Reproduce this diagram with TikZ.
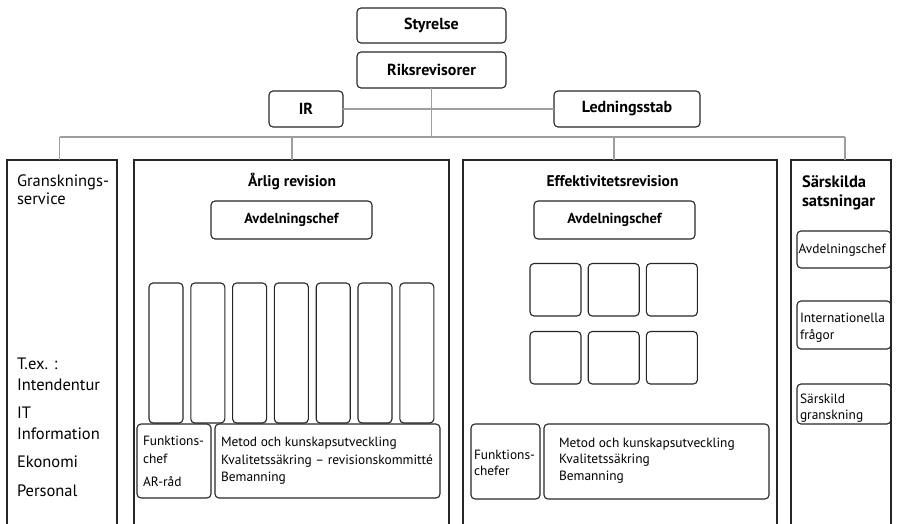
\documentclass[tikz,border=0pt]{standalone}
\usepackage{fontspec}
\setmainfont{PT Sans}
\begin{document}
\begin{tikzpicture}[x=1pt,y=-1pt,
  every node/.style={inner sep=0pt, outer sep=0pt, font=\fontsize{13.4}{16}\selectfont},
  box/.style={draw=black!85, line width=1.1pt, rounded corners=4pt},
  topbox/.style={box, font=\fontsize{16}{18}\selectfont\bfseries},
  hbox/.style={box, font=\fontsize{14.5}{17}\selectfont\bfseries},
  frame/.style={draw=black!85, line width=1.1pt, anchor=north west, minimum height=380pt},
  wire/.style={draw=black!38, line width=1.8pt},
  txt/.style={anchor=base west},
  bigtxt/.style={anchor=base west, font=\fontsize{16.5}{19}\selectfont},
  head/.style={font=\fontsize{15.5}{18}\selectfont\bfseries},
]
\useasboundingbox (0,0) rectangle (898,524);

% top management
\node[topbox, minimum width=149pt, minimum height=35pt] (styrelse) at (431.5,25.5) {Styrelse};
\node[topbox, minimum width=149pt, minimum height=36pt] (rr) at (431.5,70) {Riksrevisorer};
\node[topbox, minimum width=74pt, minimum height=36pt] (ir) at (306,109) {IR};
\node[topbox, minimum width=146pt, minimum height=36pt] (stab) at (627,109) {Ledningsstab};

% departments (open at the bottom edge)
\node[frame, minimum width=110pt] (gs) at (7,160) {};
\node[frame, minimum width=315pt] (ar) at (134,160) {};
\node[frame, minimum width=314pt] (er) at (463,160) {};
\node[frame, minimum width=100pt] (ss) at (791,160) {};

% connectors
\coordinate (busL) at (59.5,137);
\coordinate (busA) at (292,137);
\coordinate (busE) at (614,137);
\coordinate (busR) at (845,137);
\draw[wire] (ir.east) -- (stab.west);
\draw[wire] (rr.south) -- (rr.south |- busL);
\draw[wire] (busL) -- (busR);
\draw[wire] (busL) -- (busL |- gs.north);
\draw[wire] (busA) -- (busA |- ar.north);
\draw[wire] (busE) -- (busE |- er.north);
\draw[wire] (busR) -- (busR |- ss.north);

% Granskningsservice
\node[bigtxt] (gs1) at (17,187) {Gransknings-};
\node[bigtxt] (gs2) at (17,205) {service};
\node[bigtxt] (gs3) at (17,369) {T.ex. :};
\node[bigtxt] (gs4) at (17,390) {Intendentur};
\node[bigtxt] (gs5) at (17,418) {IT};
\node[bigtxt] (gs6) at (17,439) {Information};
\node[bigtxt] (gs7) at (17,467) {Ekonomi};
\node[bigtxt] (gs8) at (17,496) {Personal};

% Årlig revision
\node[head, anchor=base] (art) at (292,187) {Årlig revision};
\node[hbox, minimum width=161pt, minimum height=38pt] (arch) at (291.5,220) {Avdelningschef};
\foreach \i in {0,...,6}
  \node[box, anchor=north west, minimum width=34pt, minimum height=140pt] (arg\i) at (149+41.8*\i,283) {};
\node[box, anchor=north west, minimum width=74pt, minimum height=74pt] (arfc) at (137,424) {};
\node[box, anchor=north west, minimum width=225pt, minimum height=74pt] (armk) at (215,424) {};
\node[txt] (arfc1) at (143,445) {Funktions-};
\node[txt] (arfc2) at (143,463) {chef};
\node[txt] (arfc3) at (143,486) {AR-råd};
\node[txt] (armk1) at (221,446) {Metod och kunskapsutveckling};
\node[txt] (armk2) at (221,464) {Kvalitetssäkring – revisionskommitté};
\node[txt] (armk3) at (221,481) {Bemanning};

% Effektivitetsrevision
\node[head, anchor=base] (ert) at (612.5,187) {Effektivitetsrevision};
\node[hbox, minimum width=161pt, minimum height=38pt] (erch) at (614.5,220) {Avdelningschef};
\foreach \r/\y in {0/263.5,1/331.5}
  \foreach \c in {0,1,2}
    \node[box, anchor=north west, minimum width=51pt, minimum height=52.5pt] (erg\r\c) at (530+58.2*\c,\y) {};
\node[box, anchor=north west, minimum width=69pt, minimum height=75pt] (erfc) at (471,424) {};
\node[box, anchor=north west, minimum width=225pt, minimum height=75pt] (ermk) at (544,424) {};
\node[txt] (erfc1) at (474,459) {Funktions-};
\node[txt] (erfc2) at (474,475) {chefer};
\node[txt] (ermk1) at (559,447) {Metod och kunskapsutveckling};
\node[txt] (ermk2) at (559,463) {Kvalitetssäkring};
\node[txt] (ermk3) at (559,480) {Bemanning};

% Särskilda satsningar
\node[head, anchor=base west, font=\fontsize{16.5}{19}\selectfont\bfseries] (sst1) at (802,188) {Särskilda};
\node[head, anchor=base west, font=\fontsize{16.5}{19}\selectfont\bfseries] (sst2) at (802,207) {satsningar};
\node[box, anchor=north west, minimum width=94pt, minimum height=37pt] (ssa) at (797,231) {};
\node[box, anchor=north west, minimum width=94pt, minimum height=48pt] (ssi) at (797,301) {};
\node[box, anchor=north west, minimum width=94pt, minimum height=40pt] (ssg) at (797,384) {};
\node[txt] (ssa1) at (798.5,254) {Avdelningschef};
\node[txt] (ssi1) at (800,322) {Internationella};
\node[txt] (ssi2) at (800,339) {frågor};
\node[txt] (ssg1) at (800,403) {Särskild};
\node[txt] (ssg2) at (800,419) {granskning};
\end{tikzpicture}
\end{document}
